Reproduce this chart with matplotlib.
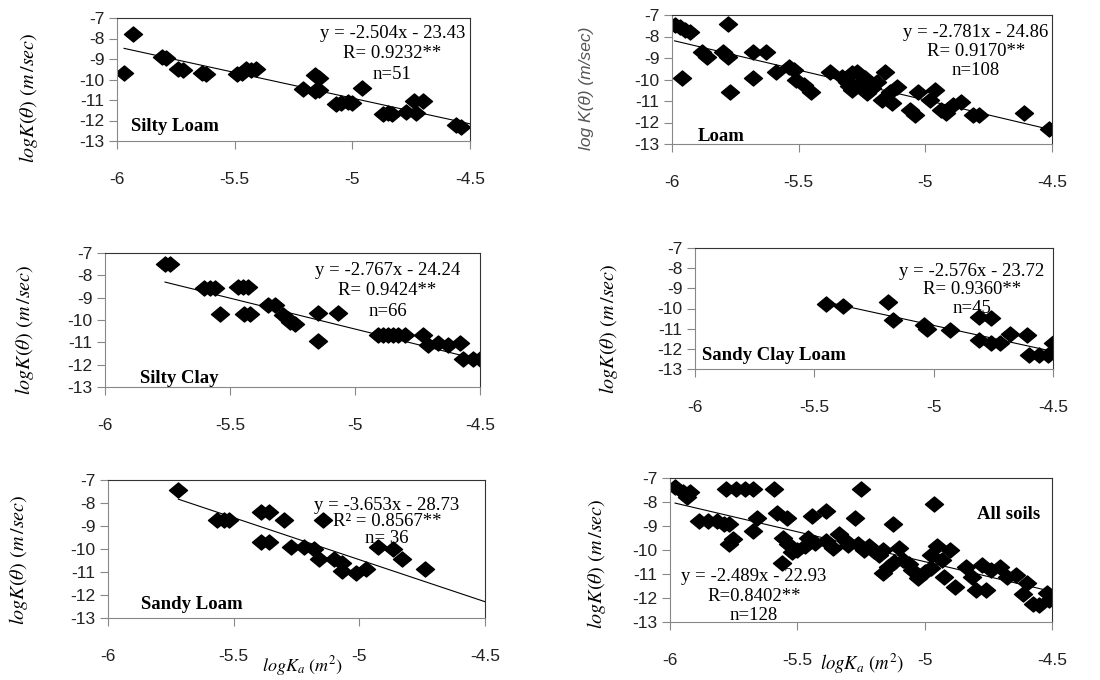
import matplotlib.pyplot as plt
from matplotlib.path import Path

plt.rcParams['font.family'] = ['Liberation Sans', 'DejaVu Sans']
plt.rcParams['mathtext.fontset'] = 'stix'
plt.rcParams['axes.unicode_minus'] = False

# ---- data (x = logKa, y = logK(theta)) ----
silty_loam_x = [-5.97, -5.93, -5.81, -5.79, -5.74, -5.72, -5.64, -5.62, -5.49, -5.47, -5.45,
                -5.43, -5.41, -5.21, -5.16, -5.14, -5.16, -5.14, -5.07, -5.05, -5.02, -5.00,
                -4.96, -4.87, -4.85, -4.83, -4.77, -4.74, -4.73, -4.70, -4.56, -4.54]
silty_loam_y = [-9.7, -7.8, -8.9, -8.95, -9.5, -9.55, -9.7, -9.75, -9.75, -9.7, -9.5,
                -9.55, -9.5, -10.45, -9.8, -9.95, -10.55, -10.5, -11.2, -11.15, -11.1, -11.15,
                -10.4, -11.7, -11.65, -11.7, -11.6, -11.05, -11.65, -11.05, -12.2, -12.3]

loam_x = [-5.99, -5.97, -5.95, -5.93, -5.96, -5.78, -5.88, -5.86, -5.80, -5.78, -5.77, -5.68,
          -5.63, -5.68, -5.59, -5.54, -5.52, -5.51, -5.48, -5.45, -5.375, -5.33, -5.29, -5.27,
          -5.31, -5.29, -5.24, -5.22, -5.23, -5.19, -5.16, -5.17, -5.13, -5.11, -5.06, -5.03,
          -5.04, -4.96, -4.98, -4.94, -4.92, -4.89, -4.86, -4.81, -4.79, -4.61, -4.51,
          -5.26, -5.21, -5.14, -5.30]
loam_y = [-7.45, -7.55, -7.7, -7.8, -9.95, -7.4, -8.7, -8.95, -8.7, -8.95, -10.57, -8.72,
          -8.72, -9.95, -9.65, -9.42, -9.57, -10.03, -10.26, -10.57, -9.65, -9.88, -9.72, -9.65,
          -10.1, -10.5, -9.95, -10.26, -10.65, -10.1, -9.65, -10.95, -11.1, -10.34, -11.4, -10.57,
          -11.65, -10.5, -10.95, -11.4, -11.57, -11.18, -11.03, -11.65, -11.65, -11.57, -12.3,
          -10.2, -10.4, -10.6, -10.3]

silty_clay_x = [-5.76, -5.74, -5.605, -5.58, -5.56, -5.47, -5.45, -5.43, -5.54, -5.445, -5.42,
                -5.35, -5.32, -5.29, -5.27, -5.26, -5.24, -5.15, -5.07, -5.15, -4.91, -4.89,
                -4.87, -4.85, -4.83, -4.80, -4.73, -4.71, -4.67, -4.63, -4.58, -4.57, -4.53, -4.50]
silty_clay_y = [-7.5, -7.5, -8.55, -8.55, -8.55, -8.54, -8.54, -8.54, -9.75, -9.75, -9.75,
                -9.32, -9.32, -9.77, -9.95, -10.07, -10.2, -9.7, -9.7, -10.95, -10.67, -10.67,
                -10.67, -10.67, -10.67, -10.67, -10.65, -11.1, -11.05, -11.1, -11.05, -11.75, -11.75, -11.75]

sandy_clay_loam_x = [-5.45, -5.38, -5.19, -5.17, -5.04, -5.03, -4.93, -4.81, -4.76, -4.81,
                     -4.76, -4.72, -4.68, -4.61, -4.60, -4.56, -4.52, -4.50]
sandy_clay_loam_y = [-9.8, -9.88, -9.7, -10.55, -10.8, -11.0, -11.05, -10.4, -10.45, -11.55,
                     -11.7, -11.7, -11.25, -11.3, -12.3, -12.3, -12.3, -11.7]

sandy_loam_x = [-5.72, -5.565, -5.54, -5.52, -5.39, -5.36, -5.30, -5.39, -5.36, -5.27, -5.22,
                -5.18, -5.146, -5.16, -5.10, -5.07, -5.07, -5.013, -4.975, -4.924, -4.867,
                -4.83, -4.74]
sandy_loam_y = [-7.44, -8.75, -8.75, -8.75, -8.4, -8.4, -8.76, -9.7, -9.7, -9.93, -9.93,
                -10.0, -8.76, -10.44, -10.44, -10.59, -10.95, -11.03, -10.88, -9.93, -10.0,
                -10.44, -10.88]

all_x = [-5.98, -5.95, -5.92, -5.935, -5.885, -5.85, -5.817, -5.786, -5.77, -5.78, -5.742,
         -5.705, -5.673, -5.59, -5.754, -5.77, -5.673, -5.66, -5.58, -5.54, -5.555, -5.536,
         -5.50, -5.56, -5.443, -5.387, -5.46, -5.43, -5.387, -5.337, -5.31, -5.274, -5.25,
         -5.262, -5.218, -5.20, -5.125, -5.162, -5.10, -5.143, -5.162, -5.087, -5.05, -5.025,
         -4.975, -4.963, -4.95, -4.90, -4.975, -4.925, -4.88, -4.838, -4.813, -4.80, -4.76,
         -4.775, -4.738, -4.706, -4.675, -4.64, -4.60, -4.613, -4.576, -4.55, -4.52, -4.51,
         -5.30, -5.24, -5.18, -5.12, -5.06, -5.00, -4.93, -5.36, -5.47, -5.52]
all_y = [-7.38, -7.59, -7.59, -7.8, -8.79, -8.79, -8.79, -8.93, -8.93, -7.45, -7.45,
         -7.45, -7.45, -7.45, -9.56, -9.77, -9.21, -8.65, -8.44, -8.65, -9.49, -9.77,
         -9.99, -10.55, -8.58, -8.37, -9.49, -9.7, -9.63, -9.35, -9.63, -8.65, -7.45,
         -9.77, -9.85, -10.06, -8.93, -9.99, -9.92, -10.69, -10.97, -10.41, -10.83, -11.18,
         -10.2, -8.08, -9.85, -9.99, -10.76, -11.11, -11.54, -10.69, -11.11, -11.68, -11.68,
         -10.62, -10.83, -10.69, -11.11, -11.04, -11.39, -11.82, -12.24, -12.3, -11.8, -12.1,
         -9.8, -10.0, -10.2, -10.5, -10.6, -10.9, -10.4, -9.9, -9.85, -10.1]

# regression lines printed on the chart: slope, intercept
slopes = [-2.504, -2.781, -2.767, -2.576, -3.653, -2.489]
intercepts = [-23.43, -24.86, -24.24, -23.72, -28.73, -22.93]

soil_names = ['Silty Loam', 'Loam', 'Silty Clay', 'Sandy Clay Loam', 'Sandy Loam', 'All soils']
eq_texts = ['y = -2.504x - 23.43', 'y = -2.781x - 24.86', 'y = -2.767x - 24.24',
            'y = -2.576x - 23.72', 'y = -3.653x - 28.73', 'y = -2.489x - 22.93']
r_texts = ['R= 0.9232**', 'R= 0.9170**', 'R= 0.9424**', 'R= 0.9360**', 'R\u00b2 = 0.8567**', 'R=0.8402**']
n_texts = ['n=51', 'n=108', 'n=66', 'n=45', 'n= 36', 'n=128']

xs = [silty_loam_x, loam_x, silty_clay_x, sandy_clay_loam_x, sandy_loam_x, all_x]
ys = [silty_loam_y, loam_y, silty_clay_y, sandy_clay_loam_y, sandy_loam_y, all_y]

x_ticks = [-6, -5.5, -5, -4.5]
x_tick_labels = ['-6', '-5.5', '-5', '-4.5']
y_ticks = [-13, -12, -11, -10, -9, -8, -7]

# ---- layout (pixel boxes: left, top, right, bottom) ----
W, H = 1100, 680
boxes = [(117, 18, 470, 141), (672, 15, 1052, 144),
         (105, 253, 480, 387), (695, 248, 1053, 369),
         (108, 480, 485, 618), (670, 478, 1052, 622)]
# text anchors in data coords: (eq x, eq y, line step), (name x, name y)
eq_pos = [(-4.83, -7.75, 1.0), (-4.80, -7.8, 0.9), (-4.87, -7.8, 0.9),
          (-4.84, -8.15, 0.93), (-4.89, -8.1, 0.72), (-5.67, -11.1, 0.82)]
name_pos = [(-5.94, -12.27), (-5.90, -12.67), (-5.86, -12.6), (-5.97, -12.35),
            (-5.87, -12.43), (-4.67, -8.54)]
ylabel_pos = [(28, 98), (587, 88), (25, 330), (608, 329), (19, 560), (597, 564)]

diamond = Path([(-1.2, 0), (0, 1), (1.2, 0), (0, -1), (-1.2, 0)],
               [Path.MOVETO, Path.LINETO, Path.LINETO, Path.LINETO, Path.CLOSEPOLY])

plt.rcParams['figure.dpi'] = 100
fig = plt.figure(figsize=(W / 100, H / 100))

for i, (l, t, r, b) in enumerate(boxes):
    ax = fig.add_axes([l / W, 1 - b / H, (r - l) / W, (b - t) / H])
    ax.plot(xs[i], ys[i], ls='none', marker=diamond, ms=13, color='black')
    x0 = min(xs[i])
    ax.plot([x0, -4.5], [slopes[i] * x0 + intercepts[i], slopes[i] * -4.5 + intercepts[i]],
            color='black', lw=0.8)
    ax.set_xlim(-6, -4.5)
    ax.set_ylim(-13, -7)
    ax.set_xticks(x_ticks)
    ax.set_xticklabels(x_tick_labels)
    ax.set_yticks(y_ticks)
    ax.tick_params(axis='both', direction='out', length=6, color='#888888',
                   labelsize=12.5, labelcolor='#222222')
    ax.tick_params(axis='x', pad=16)
    ax.tick_params(axis='y', pad=3)
    for s in ['left', 'bottom']:
        ax.spines[s].set_color('#888888')
    for s in ['top', 'right']:
        ax.spines[s].set_color('#333333')

    ex, ey, step = eq_pos[i]
    for k, txt in enumerate([eq_texts[i], r_texts[i], n_texts[i]]):
        ax.text(ex, ey - k * step, txt, ha='center', va='center', fontsize=13.5,
                family='Liberation Serif', clip_on=False)
    nx, ny = name_pos[i]
    ax.text(nx, ny, soil_names[i], ha='left' if i < 5 else 'center', va='center',
            fontsize=13.5, fontweight='bold', family='Liberation Serif')

    px, py = ylabel_pos[i]
    if i == 1:
        fig.text(px / W, 1 - py / H, 'log K(\u03b8) (m/sec)', rotation=90, ha='center',
                 va='center', fontsize=12.5, style='italic', color='#555555')
    else:
        fig.text(px / W, 1 - py / H, r'$logK(\theta)$ $(m\,/sec)$', rotation=90,
                 ha='center', va='center', fontsize=14.5)

fig.text(302 / W, 1 - 666 / H, r'$log K_a\ (m^2)$', ha='center', va='center', fontsize=13)
fig.text(862 / W, 1 - 664 / H, r'$log K_a\ (m^2)$', ha='center', va='center', fontsize=13.5)

fig.savefig('out.png', dpi=100)
